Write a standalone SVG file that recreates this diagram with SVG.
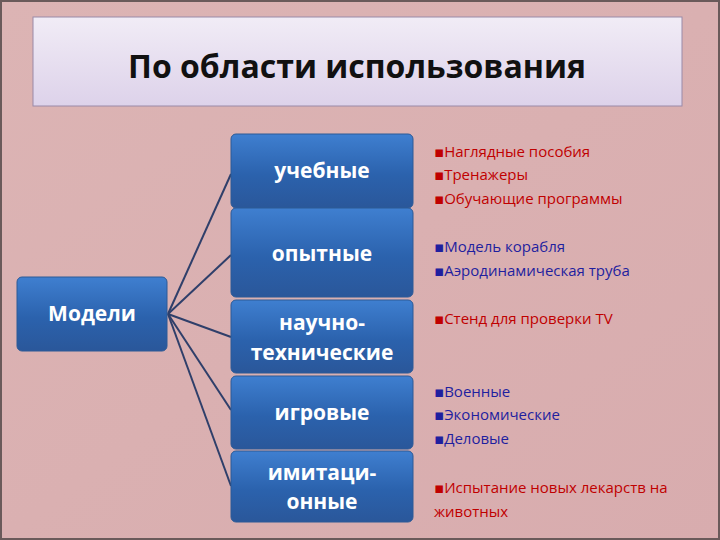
<svg xmlns="http://www.w3.org/2000/svg" width="720" height="540" viewBox="0 0 720 540">
<defs>
<linearGradient id="bg" x1="0" y1="0" x2="1" y2="1"><stop offset="0" stop-color="#dcb4b4"/><stop offset="1" stop-color="#d8acae"/></linearGradient>
<linearGradient id="tb" x1="0" y1="0" x2="0" y2="1"><stop offset="0" stop-color="#f1ecf6"/><stop offset="1" stop-color="#ddd2ea"/></linearGradient>
<linearGradient id="nb" x1="0" y1="0" x2="0" y2="1"><stop offset="0" stop-color="#3f7fd0"/><stop offset="0.55" stop-color="#2b62ad"/><stop offset="1" stop-color="#2a579a"/></linearGradient>
</defs>
<style>
.n{fill:url(#nb);stroke:#2c5a96;stroke-width:1}
.nt{font-family:"Open Sans","DejaVu Sans",sans-serif;font-size:21px;font-weight:bold;fill:#fff;text-anchor:middle}
.r{font-family:"Open Sans","DejaVu Sans",sans-serif;font-size:15px;fill:#c00000}
.b{font-family:"Open Sans","DejaVu Sans",sans-serif;font-size:15px;fill:#1f1f9f}
.c{stroke:#2f3f6a;stroke-width:2;fill:none}
</style>
<rect width="720" height="540" fill="url(#bg)"/>
<rect x="1" y="1" width="718" height="538" fill="none" stroke="#6a5a5a" stroke-width="2"/>
<g id="title">
<rect x="33" y="17" width="649" height="89" fill="url(#tb)" stroke="#9a8aa8" stroke-width="1"/>
<text x="357" y="78" font-family="'Open Sans','DejaVu Sans',sans-serif" font-size="32" font-weight="bold" fill="#111" text-anchor="middle">По области использования</text>
</g>
<g id="connectors">
<line class="c" x1="168" y1="314" x2="231" y2="174"/>
<line class="c" x1="168" y1="314" x2="231" y2="255"/>
<line class="c" x1="168" y1="314" x2="231" y2="337"/>
<line class="c" x1="168" y1="314" x2="231" y2="410"/>
<line class="c" x1="168" y1="314" x2="231" y2="486"/>
</g>
<g id="models"><rect class="n" x="17" y="277" width="150" height="74" rx="5"/><text class="nt" x="92" y="321">Модели</text></g>
<g id="n1"><rect class="n" x="231" y="134" width="182" height="74" rx="5"/><text class="nt" x="322" y="178">учебные</text></g>
<g id="n2"><rect class="n" x="231" y="208" width="182" height="89" rx="5"/><text class="nt" x="322" y="261">опытные</text></g>
<g id="n3"><rect class="n" x="231" y="300" width="182" height="73" rx="5"/><text class="nt" x="322" y="330">научно-</text><text class="nt" x="322" y="360">технические</text></g>
<g id="n4"><rect class="n" x="231" y="376" width="182" height="73" rx="5"/><text class="nt" x="322" y="420">игровые</text></g>
<g id="n5"><rect class="n" x="231" y="451" width="182" height="71" rx="5"/><text class="nt" x="322" y="480">имитаци-</text><text class="nt" x="322" y="509">онные</text></g>
<g id="texts">
<text class="r" x="434" y="157">▪Наглядные пособия</text>
<text class="r" x="434" y="180">▪Тренажеры</text>
<text class="r" x="434" y="204">▪Обучающие программы</text>
<text class="b" x="434" y="252">▪Модель корабля</text>
<text class="b" x="434" y="276">▪Аэродинамическая труба</text>
<text class="r" x="434" y="324">▪Стенд для проверки TV</text>
<text class="b" x="434" y="397">▪Военные</text>
<text class="b" x="434" y="420">▪Экономические</text>
<text class="b" x="434" y="444">▪Деловые</text>
<text class="r" x="434" y="493">▪Испытание новых лекарств на</text>
<text class="r" x="434" y="517">животных</text>
</g>
</svg>
